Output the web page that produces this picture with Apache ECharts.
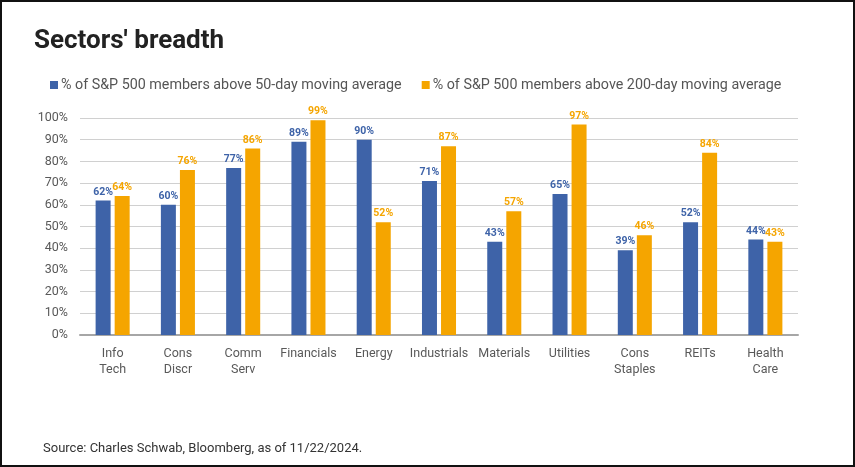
<!DOCTYPE html>
<html>
<head>
<meta charset="utf-8">
<script src="https://cdn.jsdelivr.net/npm/echarts@6/dist/echarts.min.js"></script>
<style>
html,body{margin:0;padding:0;background:#fff;}
#frame{position:absolute;left:0;top:0;width:851px;height:463px;border:2px solid #111;background:#fff;}
#chart{position:absolute;left:0;top:0;width:855px;height:467px;}
</style>
</head>
<body>
<div id="frame"></div>
<div id="chart"></div>
<script>
const categories = ['Info\nTech','Cons\nDiscr','Comm\nServ','Financials','Energy','Industrials','Materials','Utilities','Cons\nStaples','REITs','Health\nCare'];
const above50 = [62,60,77,89,90,71,43,65,39,52,44];
const above200 = [64,76,86,99,52,87,57,97,46,84,43];
const yTicks = [0,10,20,30,40,50,60,70,80,90,100];
const seriesNames = ['% of S&P 500 members above 50-day moving average','% of S&P 500 members above 200-day moving average'];

const BLUE = '#3e63a8', ORANGE = '#f5a500';
const chart = echarts.init(document.getElementById('chart'), null, {renderer:'canvas'});
chart.setOption({
  backgroundColor:'transparent',
  animation:false,
  title:[{
    text:"Sectors' breadth", left:29, top:23,
    textStyle:{fontFamily:'Roboto', fontWeight:'bold', fontSize:26, color:'#222'}
  },{
    text:'Source: Charles Schwab, Bloomberg, as of 11/22/2024.', left:38, top:437,
    textStyle:{fontFamily:'Roboto', fontWeight:'normal', fontSize:13, color:'#333'}
  }],
  legend:{
    left:45, top:73, itemWidth:8, itemHeight:8, itemGap:20,
    icon:'rect',
    textStyle:{fontFamily:'Roboto', fontSize:14.3, color:'#555', padding:[0,0,0,-2]},
    data:seriesNames
  },
  grid:{left:80, right:57, top:118, bottom:132},
  xAxis:{
    type:'category', data:categories,
    axisLine:{lineStyle:{color:'#a6a6a6', width:2}},
    axisTick:{show:false},
    axisLabel:{fontFamily:'Roboto', fontSize:12.5, color:'#595959', margin:11, lineHeight:16, interval:0}
  },
  yAxis:{
    type:'value', min:0, max:100, interval:10,
    axisLine:{show:false}, axisTick:{show:false},
    axisLabel:{formatter:v=>v+'%', fontFamily:'Roboto', fontSize:12.5, color:'#595959', margin:12},
    splitLine:{lineStyle:{color:'#d0d0d0', width:1}}
  },
  series:[{
    name:seriesNames[0], type:'bar', data:above50, barWidth:15, barGap:'27%',
    itemStyle:{color:BLUE},
    label:{show:true, position:'top', distance:3, formatter:'{c}%', color:BLUE, fontFamily:'Roboto', fontWeight:'bold', fontSize:10.5}
  },{
    name:seriesNames[1], type:'bar', data:above200, barWidth:15,
    itemStyle:{color:ORANGE},
    label:{show:true, position:'top', distance:3, formatter:'{c}%', color:ORANGE, fontFamily:'Roboto', fontWeight:'bold', fontSize:10.5}
  }]
});
</script>
</body>
</html>
